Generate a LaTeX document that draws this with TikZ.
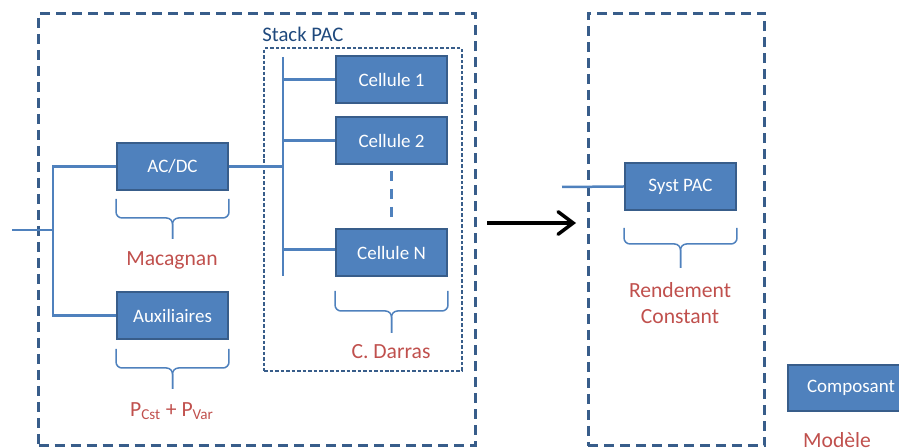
\documentclass[tikz,border=0pt]{standalone}
\usepackage{fontspec}
\setmainfont{Carlito}
\usetikzlibrary{arrows.meta,calc}

\definecolor{boxfill}{HTML}{4F81BD}
\definecolor{boxline}{HTML}{385D8A}
\definecolor{framecol}{HTML}{385D8A}
\definecolor{labred}{HTML}{C0504D}
\definecolor{titleblue}{HTML}{1F497D}

% brace under a node: node, gap, side, stem (pixels)
\newcommand{\bracebelow}[4]{%
  \draw[brc] ($(#1.south west)+(0,#2)$) -- ++(0,#3) -| ($(#1.south)+(0,#2+#3+#4)$);
  \draw[brc] ($(#1.south east)+(0,#2)$) -- ++(0,#3) -| ($(#1.south)+(0,#2+#3+#4)$);
}

\begin{document}
\begin{tikzpicture}[
    x=0.02cm, y=-0.02cm,
    comp/.style={draw=boxline, line width=0.04cm, fill=boxfill, text=white,
      minimum width=2.22cm, minimum height=0.94cm, inner sep=0pt,
      font=\fontsize{10.8}{13}\selectfont},
    frame/.style={draw=framecol, line width=0.06cm, dash pattern=on 0.2cm off 0.12cm,
      inner sep=0pt},
    stackframe/.style={draw=framecol, line width=0.025cm, dash pattern=on 0.07cm off 0.04cm,
      inner sep=0pt},
    bus/.style={draw=boxfill, line width=0.05cm},
    brc/.style={draw=boxfill, line width=0.03cm, rounded corners=0.12cm},
    lbl/.style={text=labred, align=center, inner sep=0pt,
      font=\fontsize{12.3}{14.5}\selectfont}
  ]
  \useasboundingbox (0,0) rectangle (899,448);
  \clip (0,0) rectangle (899,448);

  \node[frame, minimum width=8.74cm, minimum height=8.66cm] (leftframe) at (257,229.5) {};
  \node[frame, minimum width=3.54cm, minimum height=8.66cm] (rightframe) at (676.5,229.5) {};
  \node[stackframe, minimum width=3.96cm, minimum height=6.46cm] (stack) at (363,209.5) {};
  \node[anchor=west, text=titleblue, inner sep=0pt,
    font=\fontsize{11.8}{14}\selectfont] (stacktitle) at (262,34) {Stack PAC};

  \node[comp] (acdc) at (172.5,166.5) {AC/DC};
  \node[comp] (aux) at (172.5,315.5) {Auxiliaires};
  \node[comp] (cell1) at (391.5,79.5) {Cellule 1};
  \node[comp] (cell2) at (391.5,140.5) {Cellule 2};
  \node[comp] (celln) at (391.5,252.5) {Cellule N};
  \node[comp] (syst) at (680.5,186.5) {Syst PAC};
  \node[comp, minimum width=2.52cm] (compo) at (851,388) {Composant};

  \coordinate (in) at (12,230);
  \coordinate (busl) at (53,230);
  \coordinate (bustop) at (283,57);
  \coordinate (busbot) at (283,276);
  \coordinate (insyst) at (562,187);

  \draw[bus] (in) -- (busl);
  \draw[bus] (acdc.west) -| (busl) |- (aux.west);
  \draw[bus] (bustop) -- (busbot);
  \draw[bus] (acdc.east) -- (acdc.east -| bustop);
  \draw[bus] (cell1.west) -- (cell1.west -| bustop);
  \draw[bus] (cell2.west) -- (cell2.west -| bustop);
  \draw[bus] ([yshift=0.06cm]celln.west) -- ([yshift=0.06cm]celln.west -| bustop);
  \draw[bus, line width=0.06cm, dash pattern=on 0.2cm off 0.16cm]
    ([yshift=-0.12cm]cell2.south) -- ([yshift=0.1cm]celln.north);
  \draw[bus] (insyst) -- (syst.west);

  \bracebelow{acdc}{8}{19}{21}
  \bracebelow{aux}{9}{19}{21}
  \bracebelow{celln}{14}{20}{22}
  \bracebelow{syst}{17}{16}{24}

  \node[lbl] (macagnan) at (172,260) {Macagnan};
  \node[lbl] (pertes) at (172,411) {P\textsubscript{Cst} + P\textsubscript{Var}};
  \node[lbl] (darras) at (391,352) {C. Darras};
  \node[lbl] (rendement) at (680,303) {Rendement\\Constant};
  \node[lbl] (modele) at (837,440) {Modèle};

  \coordinate (arrfrom) at (487,223);
  \coordinate (arrto) at (576,223);
  \draw[line width=0.07cm, -{Straight Barb[length=0.3cm, width=0.45cm, line cap=round]}]
    (arrfrom) -- (arrto);
\end{tikzpicture}
\end{document}
